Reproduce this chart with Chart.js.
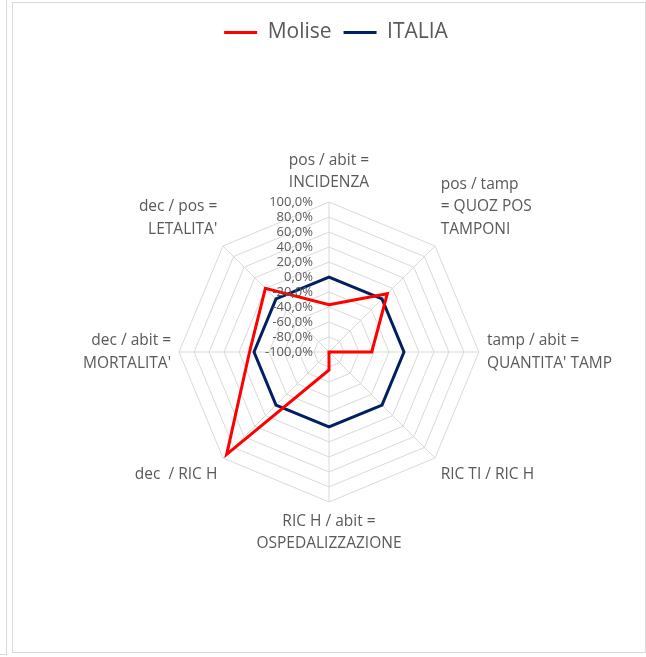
<!DOCTYPE html>
<html>
<head>
<meta charset="utf-8">
<script src="https://cdn.jsdelivr.net/npm/chart.js@4"></script>
<style>
  body { margin: 0; background: #fff; width: 646px; height: 657px; overflow: hidden; position: relative; }
  #prev { position: absolute; left: -10px; top: -2px; width: 16px; height: 656px; border-right: 1px solid #d9d9d9; border-bottom: 1px solid #d9d9d9; }
  #frame { position: absolute; left: 12px; top: 2px; width: 632px; height: 649px; border: 1px solid #d9d9d9; }
  #wrap { position: absolute; left: 0; top: 0; width: 632px; height: 649px; }
</style>
</head>
<body>
<div id="prev"></div>
<div id="frame"><div id="wrap"><canvas id="radar"></canvas></div></div>
<script>
const labels = [
  ["pos / abit =", "INCIDENZA"],
  ["pos / tamp", "= QUOZ POS", "TAMPONI"],
  ["tamp / abit =", "QUANTITA' TAMP"],
  "RIC TI / RIC H",
  ["RIC H / abit =", "OSPEDALIZZAZIONE"],
  "dec  / RIC H",
  ["dec / abit =", "MORTALITA'"],
  ["dec / pos =", "LETALITA'"]
];
const molise = [-37, 10, -43, -100, -76, 93, 6, 20];
const italia = [0, 0, 0, 0, 0, 0, 0, 0];
const tickValues = [-100, -80, -60, -40, -20, 0, 20, 40, 60, 80, 100];

const fmt = v => v.toFixed(1).replace(".", ",") + "%";

// Excel puts the tick labels left of the vertical axis, right aligned
const tickLabels = {
  id: "tickLabels",
  afterDatasetsDraw(chart) {
    const s = chart.scales.r;
    const ctx = chart.ctx;
    ctx.save();
    ctx.font = "13px 'Open Sans'";
    ctx.fillStyle = "#595959";
    ctx.textAlign = "right";
    ctx.textBaseline = "middle";
    tickValues.forEach(v => {
      const y = s.yCenter - s.getDistanceFromCenterForValue(v);
      ctx.fillText(fmt(v), s.xCenter - 16, y);
    });
    ctx.restore();
  }
};

// empty room under the legend, and legend centred on the whole frame
const legendSpace = {
  id: "legendSpace",
  beforeInit(chart) {
    const fit = chart.legend.fit;
    chart.legend.fit = function () {
      fit.bind(chart.legend)();
      this.height += 61;
    };
  },
  afterLayout(chart) {
    chart.legend.left -= 12;
    chart.legend.right -= 12;
  }
};

new Chart(document.getElementById("radar"), {
  type: "radar",
  data: {
    labels,
    datasets: [
      { label: "Molise", data: molise, borderColor: "#ff0000", backgroundColor: "transparent", borderWidth: 3, pointRadius: 0, fill: false },
      { label: "ITALIA", data: italia, borderColor: "#002060", backgroundColor: "transparent", borderWidth: 3, pointRadius: 0, fill: false }
    ]
  },
  options: {
    responsive: true,
    maintainAspectRatio: false,
    animation: false,
    elements: { line: { tension: 0, borderJoinStyle: "miter" } },
    layout: { padding: { left: 52, right: 14, top: 7, bottom: 61 } },
    plugins: {
      legend: {
        position: "top",
        labels: {
          usePointStyle: true,
          pointStyle: "line",
          pointStyleWidth: 33,
          font: { family: "'Open Sans'", size: 21 },
          color: "#595959",
          padding: 12
        }
      },
      tooltip: { enabled: false }
    },
    scales: {
      r: {
        min: -100,
        max: 100,
        ticks: { stepSize: 20, display: false },
        grid: { color: "#d9d9d9", lineWidth: 1 },
        angleLines: { color: "#d9d9d9", lineWidth: 1 },
        pointLabels: {
          font: { family: "'Open Sans'", size: 15.5, lineHeight: 1.45 },
          color: "#595959",
          padding: 8
        }
      }
    }
  },
  plugins: [tickLabels, legendSpace]
});
</script>
</body>
</html>
